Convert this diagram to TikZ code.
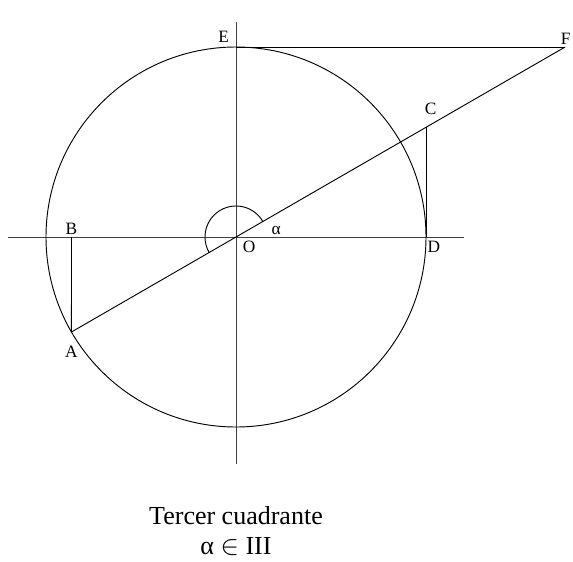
\documentclass[tikz,border=0pt]{standalone}
\usepackage{fontspec}
\setmainfont{Liberation Serif}
\usetikzlibrary{positioning}

\tikzset{
    axis/.style={draw=black!75, line width=0.7pt},
    trig/.style={draw=black, line width=0.7pt},
    lbl/.style={font=\fontsize{13}{15}\selectfont, inner sep=1pt},
    caption/.style={font=\fontsize{19.5}{23}\selectfont, align=center}
}

\begin{document}
\begin{tikzpicture}[x=0.75pt, y=0.75pt]
        \useasboundingbox (-236,-324) rectangle (337,237);

        % points
        \coordinate (O) at (0,0);
        \coordinate (A) at (210:190);
        \coordinate (B) at (-164.5,0);
        \coordinate (C) at (190,109.7);
        \coordinate (D) at (190,0);
        \coordinate (E) at (0,190);
        \coordinate (F) at (329.1,190);
        \coordinate (xl) at (-228,0);
        \coordinate (xr) at (228,0);
        \coordinate (yt) at (0,215);
        \coordinate (yb) at (0,-227);

        % axes and circle
        \draw[axis] (xl) -- (xr);
        \draw[axis] (yt) -- (yb);
        \draw[trig] (O) circle[radius=190];

        % lines
        \draw[trig] (A) -- (F);
        \draw[trig] (E) -- (F);
        \draw[trig] (B) -- (A);
        \draw[trig] (D) -- (C);
        \draw[trig] (30:31) arc[start angle=30, end angle=210, radius=31];

        % labels
        \node[lbl, above left=2pt and 4pt of E] (lE) {E};
        \node[lbl, anchor=south east] (lF) at (336,191) {F};
        \node[lbl, above left=8pt and -9pt of C] (lC) {C};
        \node[lbl, above=1pt of B] (lB) {B};
        \node[lbl, below right=2pt and 4pt of O] (lO) {O};
        \node[lbl, anchor=south west] (lalpha) at (34,1) {α};
        \node[lbl, below right=2pt and 0pt of D] (lD) {D};
        \node[lbl, below=9pt of A] (lA) {A};

        \node[caption] (cap) at (0,-294) {Tercer cuadrante\\α $\in$ III};
\end{tikzpicture}
\end{document}
